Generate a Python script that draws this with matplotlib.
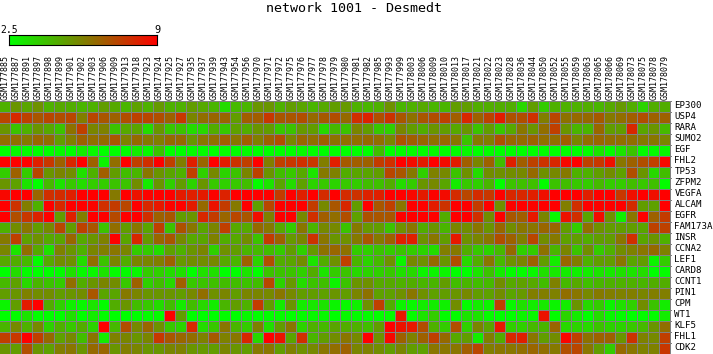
import numpy as np
import matplotlib
matplotlib.use('Agg')
import matplotlib.pyplot as plt
from matplotlib.colors import LinearSegmentedColormap

samples = ['GSM177885', 'GSM177887', 'GSM177891', 'GSM177897', 'GSM177898', 'GSM177899', 'GSM177901', 'GSM177902',
           'GSM177903', 'GSM177906', 'GSM177909', 'GSM177913', 'GSM177918', 'GSM177923', 'GSM177924', 'GSM177925',
           'GSM177927', 'GSM177935', 'GSM177937', 'GSM177939', 'GSM177943', 'GSM177954', 'GSM177956', 'GSM177970',
           'GSM177971', 'GSM177972', 'GSM177975', 'GSM177976', 'GSM177977', 'GSM177978', 'GSM177979', 'GSM177980',
           'GSM177981', 'GSM177982', 'GSM177985', 'GSM177993', 'GSM177999', 'GSM178003', 'GSM178006', 'GSM178009',
           'GSM178010', 'GSM178013', 'GSM178017', 'GSM178021', 'GSM178022', 'GSM178023', 'GSM178028', 'GSM178036',
           'GSM178044', 'GSM178050', 'GSM178052', 'GSM178055', 'GSM178059', 'GSM178063', 'GSM178065', 'GSM178066',
           'GSM178069', 'GSM178073', 'GSM178075', 'GSM178078', 'GSM178079']
genes = ['EP300', 'USP4', 'RARA', 'SUMO2', 'EGF', 'FHL2', 'TP53', 'ZFPM2', 'VEGFA', 'ALCAM', 'EGFR', 'FAM173A',
         'INSR', 'CCNA2', 'LEF1', 'CARD8', 'CCNT1', 'PIN1', 'CPM', 'WT1', 'KLF5', 'FHL1', 'CDK2']

EP300 = [4.5, 5.2, 4.8, 5.3, 4.5, 4.7, 4.6, 4.4, 4.5, 5, 4.7, 4.4, 4.9, 4.5, 5.1, 4.5, 4.5, 5, 4.7, 4.4, 3.4, 4.3,
         4.4, 5.2, 5.2, 4.5, 5, 4.8, 4.4, 4.7, 5, 5.1, 4.5, 4.4, 4.5, 5.3, 4.4, 4.5, 4.7, 4.4, 4.4, 5, 5,
         4.6, 4.6, 4.6, 4.6, 3.5, 5, 3.8, 4.5, 4.5, 4.5, 4.6, 4.4, 4.7, 5.1, 4.6, 3.6, 4.6, 4.6]
USP4 = [7.2, 8, 7.3, 6.8, 7.2, 7, 7.2, 5.8, 7.2, 6.8, 6.5, 7, 7.3, 7.2, 7, 6.5, 7.6, 5.6, 6.2, 6.4, 6.4, 5,
        6.6, 6.6, 7.6, 6.8, 6.8, 7, 6.3, 6.7, 7, 6.3, 7.8, 8.1, 7, 7.7, 6.8, 6.1, 6.8, 7, 7.3, 6.6, 8,
        6.5, 7.3, 8.3, 6.9, 7, 7.8, 5.8, 7.2, 6.1, 6.3, 6.3, 6.7, 5.9, 6.2, 6.6, 7, 6.5, 6.5]
RARA = [5.2, 4, 4.5, 5.2, 4.7, 4, 6.1, 7.4, 5.6, 5.7, 4, 4.7, 4.8, 3.4, 5.2, 3.9, 4, 3.4, 3.5, 4.6, 3.9, 4.9,
        4.6, 5.2, 5, 3.9, 4, 5.1, 5, 3.5, 4.3, 4, 5.6, 5, 3.9, 3.7, 5.6, 5, 4.6, 5.2, 5, 4.7, 5.2,
        4, 5, 3.9, 4.7, 6, 5.2, 6.2, 7.4, 5.2, 4.4, 4.4, 6.4, 5, 5, 8, 4.8, 5.2, 4.3]
SUMO2 = [6.2, 6.2, 5.9, 6.4, 6.2, 5, 5.8, 6.5, 6.2, 6.3, 6.8, 5.7, 6.3, 5.9, 5.8, 6.3, 6.3, 5.2, 6, 6.2, 6.6, 6,
         6.6, 5.8, 6.5, 7, 5.6, 6.4, 6.2, 6.6, 6.1, 6.2, 6.2, 6.3, 6.2, 5.6, 6.9, 6.6, 6.4, 6.2, 6.4, 6, 4,
         5.9, 5.8, 6.9, 6.4, 6.3, 6.5, 6.2, 6.2, 6.6, 5.6, 6.2, 6.4, 6.2, 6.2, 6.2, 5.9, 6, 5.6]
EGF = [2.5, 2.7, 2.6, 2.5, 2.5, 2.7, 2.5, 3, 2.7, 2.5, 2.5, 2.6, 3, 2.7, 4, 2.5, 2.5, 2.6, 2.6, 2.5, 2.6, 2.5,
       2.6, 2.5, 2.5, 2.5, 2.5, 2.7, 2.5, 2.5, 2.5, 2.5, 2.5, 2.5, 4.2, 2.5, 2.6, 2.6, 2.5, 2.7, 2.5, 2.6, 2.7,
       2.5, 2.6, 2.5, 2.5, 2.5, 2.5, 2.5, 2.5, 2.5, 2.5, 2.6, 3.2, 2.6, 3.2, 4, 2.6, 2.6, 2.7]
FHL2 = [9, 9, 9, 8.2, 7.6, 6.5, 8, 9, 6.5, 2.8, 6.2, 9, 7.4, 7.8, 9, 7.4, 5.8, 8.2, 6.4, 9, 8.3, 7.7,
        7.4, 9, 5.8, 7.4, 7.6, 7.8, 7.6, 5.8, 8.2, 6.7, 6.6, 6.5, 7.5, 7.8, 9, 8.7, 8.3, 9, 8.7, 8.3, 6.6,
        5.6, 6.5, 4.2, 8.2, 6.6, 7.3, 7.7, 8, 8.8, 9, 7.3, 7.6, 8.6, 6, 6.5, 7, 7.4, 8.8]
TP53 = [3.8, 6.5, 3.8, 7.2, 5.2, 5.6, 5.4, 3.3, 4.5, 6.6, 5, 4.2, 4.4, 6, 5.2, 4.8, 4.5, 7.4, 3.7, 5.5, 3.6, 4,
        5.6, 7.3, 5.2, 4.2, 3.9, 4.7, 3.2, 5.9, 5.7, 4.6, 4.8, 4.8, 5, 7.2, 6.8, 5.9, 3.7, 5.7, 5.5, 4, 5.3,
        3.4, 5.4, 5.3, 5.4, 5.5, 6.3, 5.3, 5.5, 5.9, 4.5, 4.5, 5, 5.4, 4.9, 7, 5.2, 3.5, 4.2]
ZFPM2 = [5.2, 4.9, 3.2, 2.5, 4.3, 3.2, 3.9, 3.4, 3.8, 3.8, 4, 4, 5.4, 3, 5.2, 3.7, 5, 3.6, 5.2, 3.9, 3.7, 3.9,
         4.2, 2.6, 3.2, 4.8, 3.4, 4.9, 3.6, 3.9, 3.6, 3.9, 3.8, 4.2, 4.1, 4.6, 3.4, 3.8, 5.2, 5.5, 4.8, 3, 3.9,
         3.7, 4.4, 2.5, 4, 4.1, 4.1, 2.6, 4, 4.2, 3.9, 3.8, 4.3, 3.8, 3.8, 4.2, 3.9, 4.1, 2.6]
VEGFA = [8.8, 9, 9, 6.4, 7.8, 7.9, 8.2, 9, 9, 9, 5.9, 9, 8.5, 8.9, 9, 9, 8.3, 8.2, 8.3, 8.9, 8.1, 9,
         9, 9, 9, 7.5, 9, 8.2, 9, 7.9, 9, 7.9, 7.7, 8.1, 8.2, 9, 9, 8.8, 8.3, 8.9, 8.7, 7.9, 7.2,
         7.9, 7.6, 9, 8, 8, 8.2, 8.6, 9, 9, 9, 8.2, 9, 9, 7.6, 8.6, 9, 8.6, 9]
ALCAM = [9, 7.7, 5.8, 4.5, 9, 8, 9, 9, 8.9, 7.8, 7.5, 7.2, 9, 8, 8.4, 8.9, 9, 8.3, 6.3, 8.5, 7.5, 5.9,
         9, 4.9, 7.2, 9, 9, 9, 7.5, 5.5, 6.8, 8, 5, 9, 6.8, 7.4, 6, 9, 9, 8.3, 7.7, 9, 9,
         7.5, 9, 5.3, 8.9, 9, 8.9, 9, 9, 5.8, 7.8, 9, 8.9, 9, 9, 7.9, 5, 4.9, 9]
EGFR = [9, 7, 7.6, 8.1, 9, 5, 8.2, 5.8, 9, 9, 7.1, 9, 9, 7.8, 6.5, 6.8, 5, 5.2, 8, 7.5, 6.4, 7.2,
        6.8, 8.6, 5.7, 9, 9, 5.5, 7.8, 6.6, 6.2, 7, 4.9, 6.9, 6.8, 6.8, 9, 9, 9, 9, 4.6, 9, 9,
        7.8, 5.4, 9, 6.8, 6.6, 8.4, 5.6, 2.7, 8.5, 7.8, 4.8, 8.7, 5.3, 2.9, 6, 9, 6.5, 7.5]
FAM173A = [4.5, 5.4, 6, 5, 5.5, 7.2, 5, 7.3, 6.8, 4, 6.2, 5, 6, 4.8, 7.4, 4, 6.9, 6, 4.8, 5.6, 7.4, 4.7,
           4.7, 6.3, 5.9, 4.7, 3.8, 6, 4.4, 5.5, 5.5, 4, 5.9, 5.1, 5, 4, 5.3, 6, 4.6, 5.2, 4.4, 5.6, 5.4,
           6, 5.2, 6.4, 5.4, 6, 6, 6.4, 6.4, 5, 3.8, 6.2, 5.3, 5, 5, 5, 4.8, 7.3, 7.3]
INSR = [5.9, 7.4, 4.9, 5.3, 4.7, 4.8, 6.4, 4.7, 5.2, 5.7, 9, 4.8, 8, 5.1, 6.4, 6.8, 5.5, 4.7, 4.8, 5.7, 4.6, 4.7,
        5.4, 4, 7.5, 6.5, 5.1, 5.6, 7.7, 6, 5.2, 5.3, 5.9, 6.8, 5.9, 6.5, 8.2, 8.2, 5.3, 6, 5, 8.4, 5.3,
        5.6, 6, 7, 6.5, 5.8, 7.2, 5.4, 5.9, 4.9, 5, 4.6, 5, 5, 6, 7.8, 4.8, 5.2, 4.5]
CCNA2 = [5.6, 3.2, 6.2, 4.7, 3.3, 5.7, 5.2, 4.5, 5.6, 5.8, 6, 5.6, 3.8, 3.8, 3.4, 4.9, 4.5, 5.2, 5.6, 3.7, 5.3, 5,
         4.4, 4.3, 4.2, 3.8, 5, 3.7, 5.1, 6.1, 6.4, 6.1, 3.8, 3.7, 4, 3.8, 4, 3.8, 3.6, 3.4, 5.8, 5.9, 4.6,
         3.9, 3.6, 4.3, 6.3, 3.7, 3.8, 6.1, 4.4, 5.6, 4, 5.4, 3.8, 4.5, 5.4, 5.7, 6, 6.3, 5.7]
LEF1 = [4.7, 4.6, 4.3, 2.6, 4.7, 5.4, 5.3, 3.4, 6.2, 4, 5.6, 4.6, 5.6, 5.6, 5.8, 6.5, 5.1, 5.4, 5.4, 5.5, 4.7, 4.4,
        6.5, 3.6, 7, 4.6, 4.8, 5.4, 3.2, 4.6, 5.3, 7.4, 4.4, 3.6, 4.3, 5.3, 2.8, 5.5, 5.3, 6.3, 5.2, 7, 3.5,
        4.6, 6, 4.3, 5.3, 5.6, 6.5, 5, 3, 6.4, 5.8, 4.5, 5, 5, 6, 4.8, 5, 2.8, 3.8]
CARD8 = [2.5, 3.4, 2.6, 2.5, 2.5, 2.6, 3.3, 2.7, 2.7, 3.2, 2.6, 2.6, 2.7, 3.8, 3.7, 3.4, 3.3, 2.5, 3.3, 3.3, 2.5, 2.5,
         3.2, 2.5, 4, 4, 4, 3.7, 4.6, 3.2, 3.8, 4, 3.5, 3.6, 3.7, 3.9, 3.3, 3.5, 2.8, 2.8, 2.8, 2.5, 2.5,
         3.2, 4, 3, 2.6, 2.6, 2.7, 3.3, 3.1, 3, 2.9, 3, 3.2, 3.1, 3.3, 3.2, 3.4, 2.5, 2.6]
CCNT1 = [4.3, 4.9, 3.5, 4.4, 4, 3.8, 6.2, 4.6, 5.2, 5.6, 5.4, 3.9, 6.5, 3.7, 4.2, 3.5, 6.6, 3.9, 4, 4.1, 4.2, 4.2,
         4, 4.2, 7.2, 3.6, 5.1, 3.4, 4, 4.1, 2.8, 4, 5.2, 5.3, 4.7, 4.7, 4.5, 4.6, 4.4, 4.4, 5, 4.2, 4.4,
         4.2, 4.3, 5.4, 4.7, 4.9, 4.7, 4.2, 5.7, 4.3, 4.7, 4.1, 4.4, 4.5, 4.5, 4.5, 4.4, 4.6, 4.6]
PIN1 = [5, 5.2, 5.7, 5.4, 5.4, 5, 5.2, 5.4, 6.8, 4.8, 4.8, 5.9, 5.6, 5.2, 5.2, 5.2, 5, 5.5, 6.2, 5.3, 5.6, 5,
        5.6, 5.6, 5.5, 6, 5.5, 5, 5, 4.9, 5.2, 5, 5.6, 6.1, 4.9, 4.9, 5.3, 6, 5.3, 4.9, 5, 5.2, 5.5,
        5, 4.9, 5.4, 4.8, 5.1, 5.8, 5.8, 5.7, 6.2, 6, 5.5, 5.9, 5.8, 5.7, 5.8, 5.6, 5.8, 5.8]
CPM = [2.8, 5, 8.3, 9, 4.6, 3.7, 2.9, 2.7, 3.2, 2.6, 4.6, 5.2, 4.2, 3.9, 3.4, 4.2, 3, 4.2, 3.5, 3, 4.4, 5,
       4.5, 7.5, 5, 3, 5.2, 3, 3.1, 3.2, 2.8, 2.7, 2.9, 5.3, 7.4, 4.6, 2.8, 2.7, 3, 3, 2.9, 5.4, 2.6,
       3, 2.8, 7.4, 2.7, 3.3, 3, 3.1, 2.8, 3, 5.2, 3.5, 3.8, 2.8, 3.3, 3.7, 5.4, 4, 3]
WT1 = [2.5, 2.6, 3.2, 2.5, 2.5, 2.5, 3.3, 2.5, 3, 2.6, 2.5, 2.5, 2.5, 2.6, 2.6, 9, 5, 2.5, 2.5, 2.5, 2.6, 2.5,
       2.7, 2.5, 2.5, 2.6, 2.5, 2.6, 2.7, 2.7, 2.5, 2.7, 2.6, 2.6, 2.5, 2.6, 8.4, 2.6, 3.2, 3.8, 2.6, 2.6, 3.2,
       3.2, 2.6, 2.5, 2.5, 2.8, 2.7, 8.5, 2.6, 3.6, 3, 2.5, 3.4, 2.7, 2.6, 2.5, 2.6, 2.6, 3]
KLF5 = [4.4, 5.5, 4.5, 5.5, 3.6, 4.5, 3.9, 4.6, 3.6, 9, 4.3, 7, 5.5, 6.4, 5.3, 3.9, 3.6, 8, 3.4, 3.9, 6, 4.4,
        3.8, 5.7, 3.3, 5, 6, 3.6, 4.5, 4.3, 4.8, 4.6, 4.5, 4.2, 5, 9, 8.5, 8.4, 7, 4.5, 3.8, 7, 3.7,
        5.6, 4.8, 8.4, 3.7, 3.7, 4.3, 4.4, 6.4, 3.5, 3.6, 3.5, 4, 3.6, 3.6, 3.9, 4.3, 5.2, 6.2]
FHL1 = [7.4, 7.6, 9, 7.4, 6.3, 4.9, 5.5, 4.2, 6, 3, 5.7, 5.6, 5.2, 5.6, 7.6, 6.8, 6.4, 6.2, 5.7, 6.7, 5.7, 6,
        8, 3.5, 9, 8.5, 4.8, 7.8, 4.4, 5, 5.4, 6, 5.5, 9, 5.3, 8.8, 6.5, 5.7, 6.5, 7.4, 6.3, 4.7, 5,
        3, 5.8, 4.6, 8, 8.2, 6, 5, 5.4, 8.9, 7.4, 6.1, 6.5, 6.5, 5.2, 7.7, 5.7, 5.5, 7.4]
CDK2 = [5.2, 5, 7, 5.2, 4.9, 5.8, 6, 5.2, 6.3, 6.4, 5.2, 5.8, 5.6, 5.2, 5.2, 5.6, 5.7, 5.2, 5.1, 5, 5.6, 5.2,
        5, 5.9, 6, 5, 5.7, 5.3, 5.5, 6, 6.2, 6.5, 5.6, 5.7, 5.4, 5, 5.6, 5, 4.9, 6, 6, 6, 6.6,
        7.2, 5.8, 6, 6, 6.2, 6.4, 6.2, 5.9, 7, 7.2, 6, 5, 3.8, 6.3, 6, 5.7, 5.7, 7.6]

vmin = 2.5
vmax = 9

plt.rcParams['font.family'] = 'DejaVu Sans Mono'

W, H = 713, 354
cmap = LinearSegmentedColormap.from_list('gr', ['#00ff00', '#ff0000'])
matrix = np.array([EP300, USP4, RARA, SUMO2, EGF, FHL2, TP53, ZFPM2, VEGFA, ALCAM, EGFR, FAM173A,
                   INSR, CCNA2, LEF1, CARD8, CCNT1, PIN1, CPM, WT1, KLF5, FHL1, CDK2])
n_rows, n_cols = matrix.shape

fig = plt.figure(figsize=(W / 100, H / 100), dpi=100)

# heatmap, one cell is 11 px, the grid takes the last pixel of each cell
ax = fig.add_axes([0, 0, 671 / W, 253 / H])
ax.imshow(matrix, cmap=cmap, vmin=vmin, vmax=vmax, aspect='auto', interpolation='nearest',
          extent=[0, n_cols, n_rows, 0])
# agg snaps a 1 px line to floor(x + 0.5) + 0.5, so aim one pixel before the cell edge
shift = 1 / 11
grid_x = np.arange(1, n_cols + 1) - shift
grid_y = np.arange(0, n_rows)
ax.vlines(grid_x, 0, n_rows, color='#808080', linewidth=0.72, antialiased=False, clip_on=False)
ax.hlines(grid_y, 0, n_cols, color='#808080', linewidth=0.72, antialiased=False, clip_on=False)
ax.set_xlim(0, n_cols)
ax.set_ylim(n_rows, 0)
ax.xaxis.tick_top()
ax.set_xticks(np.arange(n_cols) + 0.45)
ax.set_xticklabels(samples, rotation=90, fontsize=6, ha='center', va='bottom', color='black')
ax.yaxis.tick_right()
ax.set_yticks(np.arange(n_rows) + 0.45)
ax.set_yticklabels(genes, fontsize=6.6, va='center')
ax.tick_params(length=0, pad=1)
ax.tick_params(axis='y', pad=2.5)
for s in ax.spines.values():
    s.set_visible(False)

# colour scale
cax = fig.add_axes([8.5 / W, (H - 45) / H, 149 / W, 10 / H])
cax.imshow(np.linspace(vmin, vmax, 256).reshape(1, -1), cmap=cmap, aspect='auto',
           extent=[vmin, vmax, 0, 1])
cax.set_xticks([])
cax.set_yticks([])
for s in cax.spines.values():
    s.set_linewidth(0.8)
fig.text(9 / W, (H - 30) / H, '2.5', fontsize=7, ha='center', va='center')
fig.text(157.5 / W, (H - 30) / H, '9', fontsize=7.5, ha='center', va='center')

fig.text(353.5 / W, (H - 8) / H, 'network 1001 - Desmedt', fontsize=9.6, ha='center', va='center')

fig.savefig('out.png', dpi=100)
plt.close(fig)
